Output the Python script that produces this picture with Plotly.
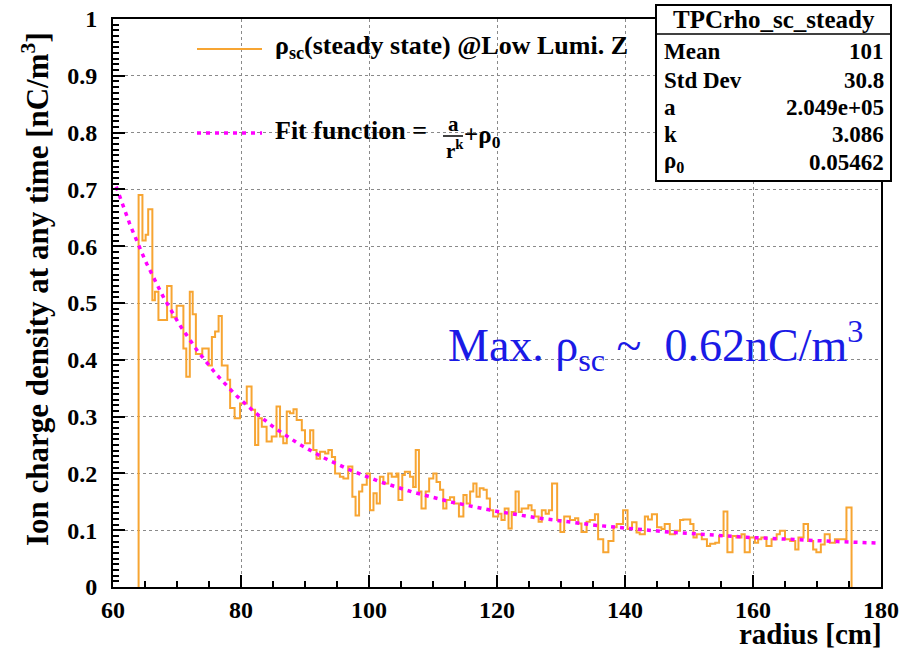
import numpy as np
import plotly.graph_objects as go

# ---------------- data ----------------
# histogram bin left edges [cm] and contents [nC/m^3]
bin_left_edges = [
    64.0, 64.6, 65.1, 65.5, 66.15, 66.55, 67.1, 68.45, 69.15, 69.95,
    71.0, 71.45, 72.0, 72.45, 72.95, 73.95, 74.95, 75.45, 75.95, 76.5,
    77.0, 77.9, 78.3, 79.0, 79.85, 80.9, 81.65, 82.2, 82.7, 83.25,
    84.0, 84.8, 85.55, 86.1, 86.6, 87.15, 87.65, 88.2, 88.7, 89.5,
    90.0, 90.8, 91.3, 91.8, 92.35, 93.15, 93.65, 94.2, 94.7, 95.45,
    96.0, 96.75, 97.4, 97.9, 98.45, 98.95, 99.65, 100.15, 100.7, 101.2,
    101.7, 102.25, 103.0, 103.55, 104.3, 104.6, 105.2, 105.6, 106.4, 106.9,
    107.3, 107.8, 108.2, 108.85, 109.4, 110.05, 110.55, 111.1, 111.6, 112.1,
    112.65, 113.3, 114.05, 114.75, 115.25, 115.8, 116.3, 116.8, 117.3, 117.9,
    118.4, 118.9, 119.4, 120.2, 120.7, 121.2, 121.8, 122.3, 122.9, 123.4,
    123.85, 124.9, 125.4, 125.9, 126.5, 127.0, 127.6, 128.1, 128.6, 129.4,
    129.9, 130.5, 131.4, 132.2, 132.7, 133.2, 134.0, 134.5, 135.3, 135.8,
    136.6, 137.4, 138.2, 138.7, 139.7, 140.4, 141.1, 141.8, 142.3, 143.1,
    143.6, 144.2, 145.0, 145.7, 146.2, 147.0, 147.8, 148.6, 149.1, 150.2,
    150.7, 151.2, 152.0, 152.8, 153.3, 154.1, 154.7, 155.4, 156.0, 156.8,
    157.4, 158.2, 158.7, 159.5, 160.3, 160.8, 161.3, 162.1, 162.9, 163.7,
    164.2, 165.0, 165.8, 166.6, 167.1, 167.9, 168.6, 169.4, 169.9, 170.6,
    171.2, 172.0, 172.8, 173.6, 174.6,
]
last_bin_right_edge = 175.4
rho_values = [
    0.69, 0.61, 0.62, 0.665, 0.505, 0.52, 0.47, 0.53, 0.475, 0.495,
    0.42, 0.37, 0.52, 0.48, 0.41, 0.42, 0.39, 0.44, 0.45, 0.477,
    0.39, 0.365, 0.315, 0.297, 0.323, 0.353, 0.312, 0.25, 0.297, 0.282,
    0.256, 0.265, 0.318, 0.265, 0.253, 0.309, 0.306, 0.313, 0.294, 0.276,
    0.253, 0.276, 0.241, 0.226, 0.238, 0.235, 0.241, 0.229, 0.2, 0.194,
    0.191, 0.212, 0.159, 0.126, 0.168, 0.18, 0.2, 0.135, 0.165, 0.147,
    0.194, 0.182, 0.2, 0.194, 0.2, 0.153, 0.197, 0.203, 0.194, 0.176,
    0.241, 0.168, 0.138, 0.168, 0.191, 0.2, 0.185, 0.171, 0.138, 0.153,
    0.158, 0.147, 0.124, 0.162, 0.147, 0.168, 0.182, 0.159, 0.174, 0.171,
    0.156, 0.135, 0.124, 0.129, 0.118, 0.138, 0.103, 0.132, 0.168, 0.132,
    0.138, 0.144, 0.135, 0.124, 0.115, 0.135, 0.129, 0.135, 0.182, 0.118,
    0.097, 0.124, 0.118, 0.121, 0.112, 0.097, 0.115, 0.118, 0.128, 0.084,
    0.061, 0.081, 0.105, 0.111, 0.135, 0.102, 0.114, 0.096, 0.093, 0.124,
    0.119, 0.128, 0.105, 0.102, 0.111, 0.093, 0.099, 0.118, 0.119, 0.111,
    0.087, 0.093, 0.084, 0.072, 0.076, 0.078, 0.09, 0.133, 0.061, 0.09,
    0.087, 0.093, 0.061, 0.087, 0.078, 0.084, 0.087, 0.072, 0.084, 0.093,
    0.099, 0.084, 0.081, 0.066, 0.087, 0.111, 0.081, 0.066, 0.061, 0.075,
    0.093, 0.078, 0.084, 0.084, 0.14,
]
assert len(bin_left_edges) == len(rho_values)

# fit parameters (from stats box)
fit_a = 2.049e5
fit_k = 3.086
fit_rho0 = 0.05462
fit_range = [60.5, 179.5]

stats_labels = ["Mean", "Std Dev", "a", "k", "ρ<sub>0</sub>"]
stats_values = ["101", "30.8", "2.049e+05", "3.086", "0.05462"]
stats_title = "TPCrho_sc_steady"

x_ticks = [60, 80, 100, 120, 140, 160, 180]

# ---------------- figure ----------------
ORANGE = "#f7a532"
MAGENTA = "#ff00ff"
SERIF = "Liberation Serif"

L, R, T, B = 113, 21, 19, 63
W, H = 902, 650
PW, PH = W - L - R, H - T - B


def px(x):
    return (x - L) / PW


def py(y):
    return (H - B - y) / PH


hx = [bin_left_edges[0]] + bin_left_edges + [last_bin_right_edge, last_bin_right_edge]
hy = [0] + rho_values + [rho_values[-1], 0]

r_fit = np.linspace(fit_range[0], fit_range[1], 400)
rho_fit = fit_a / r_fit ** fit_k + fit_rho0

fig = go.Figure()
fig.add_trace(go.Scatter(x=hx, y=hy, mode="lines", line=dict(color=ORANGE, width=2, shape="hv"),
                         showlegend=False, hoverinfo="skip"))
fig.add_trace(go.Scatter(x=r_fit, y=rho_fit, mode="lines",
                         line=dict(color=MAGENTA, width=3.5, dash="4px,5px"),
                         showlegend=False, hoverinfo="skip"))

tickfont = dict(family=SERIF, size=24, color="black", weight="bold")
fig.update_layout(
    template="none",
    width=W, height=H,
    margin=dict(l=L, r=R, t=T, b=B, autoexpand=False),
    paper_bgcolor="white", plot_bgcolor="white",
    xaxis=dict(range=[60, 180], tickvals=x_ticks, ticks="inside", ticklen=12, tickwidth=1.5,
               tickcolor="black", showline=True, linecolor="black", linewidth=2, mirror=True,
               showgrid=True, gridcolor="#8a8a8a", griddash="dot", gridwidth=1, zeroline=False,
               tickfont=tickfont, ticklabelstandoff=0, automargin=False,
               minor=dict(dtick=5, ticks="inside", ticklen=6, tickcolor="black", showgrid=False)),
    yaxis=dict(range=[0, 1], dtick=0.1, ticks="inside", ticklen=12, tickwidth=1.5,
               tickcolor="black", showline=True, linecolor="black", linewidth=2, mirror=True,
               showgrid=True, gridcolor="#8a8a8a", griddash="dot", gridwidth=1, zeroline=False,
               tickfont=tickfont, ticklabelstandoff=9, automargin=False,
               minor=dict(dtick=0.01, ticks="inside", ticklen=6, tickcolor="black", showgrid=False)),
)

annotations = []
shapes = []

# axis titles
annotations.append(dict(text="Ion charge density at any time [nC/m<sup>3</sup>]", textangle=-90,
                        xref="paper", yref="paper", x=px(35), y=py(289), showarrow=False,
                        font=dict(family=SERIF, size=31, color="black", weight="bold"),
                        xanchor="center", yanchor="middle"))
annotations.append(dict(text="radius [cm]", xref="paper", yref="paper", x=px(884), y=py(634),
                        showarrow=False, xanchor="right", yanchor="middle",
                        font=dict(family=SERIF, size=29, color="black", weight="bold")))

# legend
shapes.append(dict(type="line", xref="paper", yref="paper", x0=px(197), x1=px(262), y0=py(49), y1=py(49),
                   line=dict(color=ORANGE, width=2)))
annotations.append(dict(text="ρ<sub>sc</sub>(steady state) @Low Lumi. Z", xref="paper", yref="paper",
                        x=px(273), y=py(47), xanchor="left", yanchor="middle", showarrow=False,
                        font=dict(family=SERIF, size=26, color="black", weight="bold")))
shapes.append(dict(type="line", xref="paper", yref="paper", x0=px(197), x1=px(262), y0=py(133), y1=py(133),
                   line=dict(color=MAGENTA, width=3.5, dash="4px,5px")))
annotations.append(dict(text="Fit function =", xref="paper", yref="paper",
                        x=px(273), y=py(131), xanchor="left", yanchor="middle", showarrow=False,
                        font=dict(family=SERIF, size=26, color="black", weight="bold")))
annotations.append(dict(text="a", xref="paper", yref="paper", x=px(453), y=py(124),
                        xanchor="center", yanchor="middle", showarrow=False,
                        font=dict(family=SERIF, size=21, color="black", weight="bold")))
shapes.append(dict(type="line", xref="paper", yref="paper", x0=px(443), x1=px(463), y0=py(136), y1=py(136),
                   line=dict(color="black", width=1.5)))
annotations.append(dict(text="r<sup>k</sup>", xref="paper", yref="paper", x=px(455), y=py(149),
                        xanchor="center", yanchor="middle", showarrow=False,
                        font=dict(family=SERIF, size=21, color="black", weight="bold")))
annotations.append(dict(text="+ρ<sub>0</sub>", xref="paper", yref="paper", x=px(462), y=py(137),
                        xanchor="left", yanchor="middle", showarrow=False,
                        font=dict(family=SERIF, size=25, color="black", weight="bold")))

# stats box
bx0, bx1, by0, by1 = 656, 891, 5, 181
shapes.append(dict(type="rect", xref="paper", yref="paper", x0=px(bx0), x1=px(bx1), y0=py(by1), y1=py(by0),
                   fillcolor="white", line=dict(color="black", width=2), layer="above"))
shapes.append(dict(type="line", xref="paper", yref="paper", x0=px(bx0), x1=px(bx1), y0=py(34), y1=py(34),
                   line=dict(color="black", width=1.5)))
annotations.append(dict(text=stats_title, xref="paper", yref="paper", x=px((bx0 + bx1) / 2), y=py(19),
                        xanchor="center", yanchor="middle", showarrow=False,
                        font=dict(family=SERIF, size=25, color="black", weight="bold")))
row_y = [52, 80, 107, 135, 162]
for lab, val, yy in zip(stats_labels, stats_values, row_y):
    annotations.append(dict(text=lab, xref="paper", yref="paper", x=px(662), y=py(yy),
                            xanchor="left", yanchor="middle", showarrow=False,
                            font=dict(family=SERIF, size=23, color="black", weight="bold")))
    annotations.append(dict(text=val, xref="paper", yref="paper", x=px(886), y=py(yy),
                            xanchor="right", yanchor="middle", showarrow=False,
                            font=dict(family=SERIF, size=23, color="black", weight="bold")))

# big blue note
annotations.append(dict(text="Max. ρ<sub>sc</sub> ~  0.62nC/m<sup>3</sup>", xref="paper", yref="paper",
                        x=px(446), y=py(345), xanchor="left", yanchor="middle", showarrow=False,
                        font=dict(family=SERIF, size=46, color="#1a1ae6")))

fig.update_layout(annotations=annotations, shapes=shapes)
fig.write_html("out.html", config={"displayModeBar": False},
               post_script="document.body.style.margin='0';")
